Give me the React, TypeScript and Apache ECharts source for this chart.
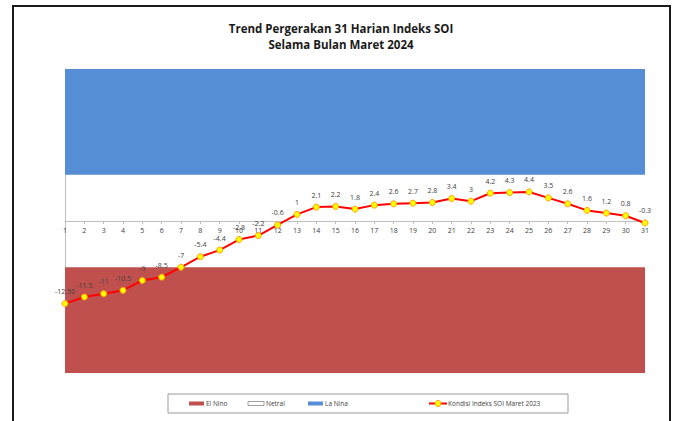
import React, { useEffect, useRef } from "react";
import * as echarts from "echarts";

const titleLines = ["Trend Pergerakan 31 Harian Indeks SOI", "Selama Bulan Maret 2024"];
const days = Array.from({ length: 31 }, (_, i) => String(i + 1));
const soiValues = [
  -12.5, -11.5, -11, -10.5, -9, -8.5, -7, -5.4, -4.4, -2.8, -2.2, -0.6, 1, 2.1, 2.2, 1.8,
  2.4, 2.6, 2.7, 2.8, 3.4, 3, 4.2, 4.3, 4.4, 3.5, 2.6, 1.6, 1.2, 0.8, -0.3,
];
const soiLabels = [
  "-12.50", "-11.5", "-11", "-10.5", "-9", "-8.5", "-7", "-5.4", "-4.4", "-2.8", "-2.2", "-0.6",
  "1", "2.1", "2.2", "1.8", "2.4", "2.6", "2.7", "2.8", "3.4", "3", "4.2", "4.3", "4.4", "3.5",
  "2.6", "1.6", "1.2", "0.8", "-0.3",
];
const laNinaBand = [7, 23];
const elNinoBand = [-23, -7];
const yRange = [-23, 23];
const seriesName = "Kondisi Indeks SOI Maret 2023";
const legendNames = ["El Nino", "Netral", "La Nina", seriesName];

const RED = "#C0504D";
const BLUE = "#558ED5";
const FONT = "'Open Sans', 'Liberation Sans', sans-serif";

export default function App() {
  const ref = useRef<HTMLDivElement>(null);
  useEffect(() => {
    if (!ref.current) return;
    const chart = echarts.init(ref.current, null, { renderer: "svg" });
    const legendY = 403.5;
    const gridTop = 69;
    const gridBottom = 48;
    const plotH = 421 - gridTop - gridBottom;
    const zeroOffset = -plotH * (0 - yRange[0]) / (yRange[1] - yRange[0]);
    const legendText = (i: number, x: number) => ({
      type: "text",
      x,
      y: legendY,
      style: { text: legendNames[i], font: `6.5px ${FONT}`, fill: "#404040", verticalAlign: "middle" },
    });
    chart.setOption({
      animation: false,
      backgroundColor: "#fff",
      grid: { left: 65, right: 33, top: gridTop, bottom: gridBottom },
      xAxis: {
        type: "category",
        data: days,
        boundaryGap: false,
        offset: zeroOffset,
        axisLine: { onZero: false, lineStyle: { color: "#bfbfbf", width: 1 } },
        axisTick: { show: true, length: 3, alignWithLabel: true, lineStyle: { color: "#bfbfbf" } },
        axisLabel: { fontSize: 7, color: "#404040", margin: 6, fontFamily: FONT, interval: 0 },
        z: 5,
      },
      yAxis: {
        type: "value",
        min: yRange[0],
        max: yRange[1],
        axisLine: { show: true, lineStyle: { color: "#bfbfbf" } },
        axisTick: { show: false },
        axisLabel: { show: false },
        splitLine: { show: false },
      },
      series: [
        {
          name: seriesName,
          type: "line",
          data: soiValues,
          z: 10,
          symbol: "circle",
          symbolSize: 6,
          lineStyle: { color: "#FF0000", width: 2 },
          itemStyle: { color: "#FFFF00", borderColor: "#FFA000", borderWidth: 1 },
          label: {
            show: true,
            position: "top",
            distance: 5,
            fontSize: 7,
            color: "#404040",
            fontFamily: FONT,
            formatter: (p: any) => soiLabels[p.dataIndex],
          },
          markArea: {
            silent: true,
            data: [
              [
                { yAxis: laNinaBand[0], itemStyle: { color: BLUE } },
                { yAxis: laNinaBand[1] },
              ],
              [
                { yAxis: elNinoBand[0], itemStyle: { color: RED } },
                { yAxis: elNinoBand[1] },
              ],
            ],
          },
        },
      ],
      graphic: [
        {
          type: "polyline",
          shape: { points: [[13, 430], [13, 6], [670, 6], [670, 430]] },
          style: { stroke: "#1a1a1a", lineWidth: 2, fill: "none" },
        },
        {
          type: "text",
          x: 341,
          y: 28,
          style: {
            text: titleLines[0],
            font: `bold 11.5px ${FONT}`,
            fill: "#1a1a1a",
            align: "center",
            verticalAlign: "middle",
          },
        },
        {
          type: "text",
          x: 341,
          y: 44,
          style: {
            text: titleLines[1],
            font: `bold 11.5px ${FONT}`,
            fill: "#1a1a1a",
            align: "center",
            verticalAlign: "middle",
          },
        },
        {
          type: "rect",
          shape: { x: 168, y: 394, width: 400, height: 19 },
          style: { fill: "#fff", stroke: "#999", lineWidth: 1 },
        },
        {
          type: "rect",
          shape: { x: 189, y: legendY - 2, width: 15, height: 4 },
          style: { fill: RED },
        },
        legendText(0, 206),
        {
          type: "rect",
          shape: { x: 248, y: legendY - 2, width: 16, height: 4 },
          style: { fill: "#fff", stroke: "#888", lineWidth: 0.8 },
        },
        legendText(1, 266),
        {
          type: "rect",
          shape: { x: 308, y: legendY - 2, width: 15, height: 4 },
          style: { fill: BLUE },
        },
        legendText(2, 325),
        {
          type: "line",
          shape: { x1: 429, y1: legendY, x2: 447, y2: legendY },
          style: { stroke: "#FF0000", lineWidth: 2 },
        },
        {
          type: "circle",
          shape: { cx: 438, cy: legendY, r: 3 },
          style: { fill: "#FFFF00", stroke: "#FFA000", lineWidth: 1 },
        },
        legendText(3, 448),
      ],
    });
    return () => chart.dispose();
  }, []);
  return <div ref={ref} style={{ width: 678, height: 421, position: "absolute", left: 0, top: 0 }} />;
}
